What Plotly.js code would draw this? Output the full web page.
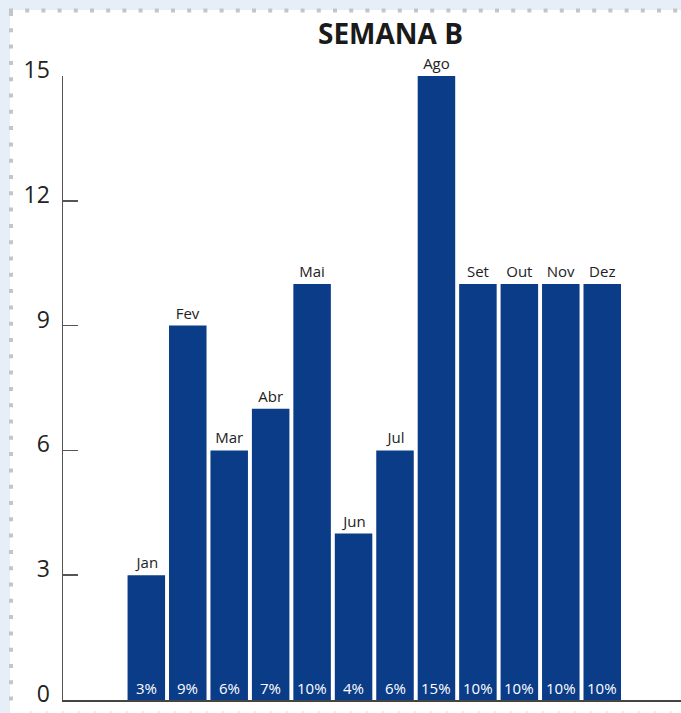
<!DOCTYPE html>
<html>
<head>
<meta charset="utf-8">
<script src="https://cdn.plot.ly/plotly-3.0.1.min.js"></script>
<style>
html,body{margin:0;padding:0;background:#e6eff8;}
#chart{width:681px;height:713px;}
</style>
</head>
<body>
<div id="chart"></div>
<script>
const months = ["Jan","Fev","Mar","Abr","Mai","Jun","Jul","Ago","Set","Out","Nov","Dez"];
const values = [3, 9, 6, 7, 10, 4, 6, 15, 10, 10, 10, 10];
const percents = ["3%","9%","6%","7%","10%","4%","6%","15%","10%","10%","10%","10%"];
const yTicks = [0, 3, 6, 9, 12, 15];
const chartTitle = "SEMANA B";

const W = 681, H = 713;
const M = {l: 63, r: 0, t: 76, b: 13};
const pw = W - M.l - M.r, ph = H - M.t - M.b;
const px = x => (x - M.l) / pw;
const py = y => (H - M.b - y) / ph;

const idx = months.map((m, i) => i);

const trace = {
  type: "bar",
  x: idx,
  y: values,
  text: months,
  textposition: "outside",
  cliponaxis: false,
  textfont: {family: "Open Sans, Noto Sans, sans-serif", size: 15, color: "#222"},
  marker: {color: "#0b3c88", line: {width: 0}},
  hoverinfo: "none"
};

const annotations = idx.map(i => ({
  x: i, y: 0, xref: "x", yref: "y",
  text: percents[i], showarrow: false,
  yanchor: "bottom", yshift: 0,
  font: {family: "Open Sans, Noto Sans, sans-serif", size: 15, color: "#ffffff"}
}));
annotations.push({
  x: px(390), y: py(33), xref: "paper", yref: "paper",
  text: "<b>" + chartTitle + "</b>", showarrow: false,
  xanchor: "center", yanchor: "middle",
  font: {family: "Open Sans, Noto Sans, sans-serif", size: 28, color: "#1a1a1a"}
});

const shapes = [
  {type: "rect", layer: "below", xref: "paper", yref: "paper",
   x0: px(10), x1: px(W + 5), y0: py(H + 5), y1: py(10),
   fillcolor: "#ffffff", line: {width: 0}},
  {type: "line", layer: "above", xref: "paper", yref: "paper",
   x0: px(9), x1: px(W + 5), y0: py(10.5), y1: py(10.5),
   line: {color: "#c4c5cb", width: 4, dash: "4px,12.2px"}},
  {type: "line", layer: "above", xref: "paper", yref: "paper",
   x0: px(11), x1: px(11), y0: py(12), y1: py(H),
   line: {color: "#c4c5cb", width: 4, dash: "4px,12.3px"}},
  {type: "line", layer: "above", xref: "paper", yref: "paper",
   x0: px(30), x1: px(W), y0: py(712), y1: py(712),
   line: {color: "#ebebee", width: 2, dash: "2px,14px"}}
];

const layout = {
  width: W, height: H,
  margin: M,
  paper_bgcolor: "#e6eff8",
  plot_bgcolor: "rgba(0,0,0,0)",
  showlegend: false,
  bargap: 0.095,
  font: {family: "Open Sans, Noto Sans, sans-serif", color: "#222"},
  xaxis: {
    range: [-2.01, 12.9],
    showticklabels: false, ticks: "",
    showgrid: false, zeroline: false,
    showline: true, linecolor: "#444", linewidth: 2,
    fixedrange: true
  },
  yaxis: {
    range: [0, 15],
    tickvals: yTicks,
    ticktext: yTicks.map(String),
    ticks: "inside", ticklen: 15, tickwidth: 1.5, tickcolor: "#555",
    tickfont: {family: "Open Sans, Noto Sans, sans-serif", size: 23, color: "#222"},
    ticklabelstandoff: 7,
    ticklabelshift: -6,
    ticklabeloverflow: "allow",
    showgrid: false, zeroline: false,
    showline: true, linecolor: "#555", linewidth: 1.5,
    fixedrange: true
  },
  annotations: annotations,
  shapes: shapes
};

Plotly.newPlot("chart", [trace], layout, {displayModeBar: false, staticPlot: true});
</script>
</body>
</html>
